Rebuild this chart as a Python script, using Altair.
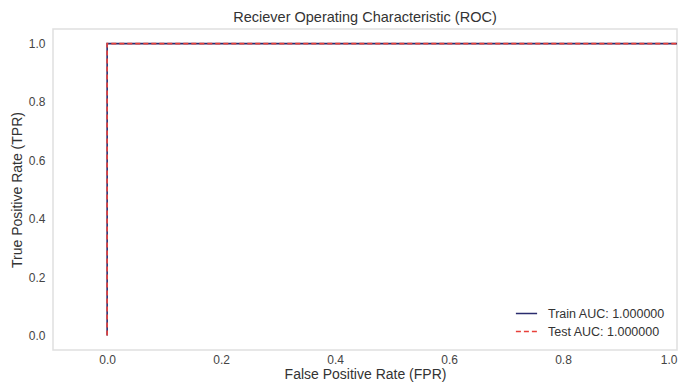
import altair as alt
import pandas as pd

series = ["Train AUC: 1.000000"] * 3 + ["Test AUC: 1.000000"] * 3
fpr = [0.0, 0.0, 1.0, 0.0, 0.0, 1.0]
tpr = [0.0, 1.0, 1.0, 0.0, 1.0, 1.0]
order = [0, 1, 2, 0, 1, 2]
ticks = [0.0, 0.2, 0.4, 0.6, 0.8, 1.0]

df = pd.DataFrame({"series": series, "fpr": fpr, "tpr": tpr, "order": order})
names = ["Train AUC: 1.000000", "Test AUC: 1.000000"]

chart = alt.Chart(df).mark_line(strokeWidth=1.6, clip=True).encode(
    x=alt.X("fpr:Q", scale=alt.Scale(domain=[-0.095, 1.0], nice=False, zero=False),
            axis=alt.Axis(values=ticks, format=".1f", title="False Positive Rate (FPR)",
                          grid=False, ticks=False, domain=False, labelPadding=4,
                          titlePadding=2)),
    y=alt.Y("tpr:Q", scale=alt.Scale(domain=[-0.05, 1.05], nice=False, zero=False),
            axis=alt.Axis(values=ticks, format=".1f", title="True Positive Rate (TPR)",
                          grid=False, ticks=False, domain=False, labelPadding=8,
                          titlePadding=4)),
    color=alt.Color("series:N", sort=names,
                    scale=alt.Scale(domain=names, range=["#2a2c6e", "#e8403a"]),
                    legend=alt.Legend(title=None, orient="bottom-right", symbolType="stroke",
                                      symbolSize=450, labelFontSize=12.5, labelColor="#333333",
                                      offset=12, symbolStrokeWidth=1.6, rowPadding=0,
                                      labelOffset=10)),
    strokeDash=alt.StrokeDash("series:N", sort=names,
                              scale=alt.Scale(domain=names, range=[[1, 0], [5, 3]]),
                              legend=alt.Legend(title=None)),
    order="order:O",
).properties(
    width=624, height=321,
    title=alt.Title("Reciever Operating Characteristic (ROC)", fontSize=14.5,
                    fontWeight="normal", color="#333333", offset=4),
    autosize=alt.AutoSizeParams(type="none"),
    padding={"left": 45, "top": 21, "right": 10, "bottom": 33},
).configure_view(
    stroke="#e0e0e0", strokeWidth=1.5
).configure_axis(
    labelFontSize=12, labelColor="#444444", titleFontSize=14, titleColor="#333333",
    titleFontWeight="normal", labelFont="Liberation Sans", titleFont="Liberation Sans"
).configure_title(font="Liberation Sans").configure_legend(labelFont="Liberation Sans")

chart.save("out.html", embed_options={"renderer": "svg", "actions": False})
